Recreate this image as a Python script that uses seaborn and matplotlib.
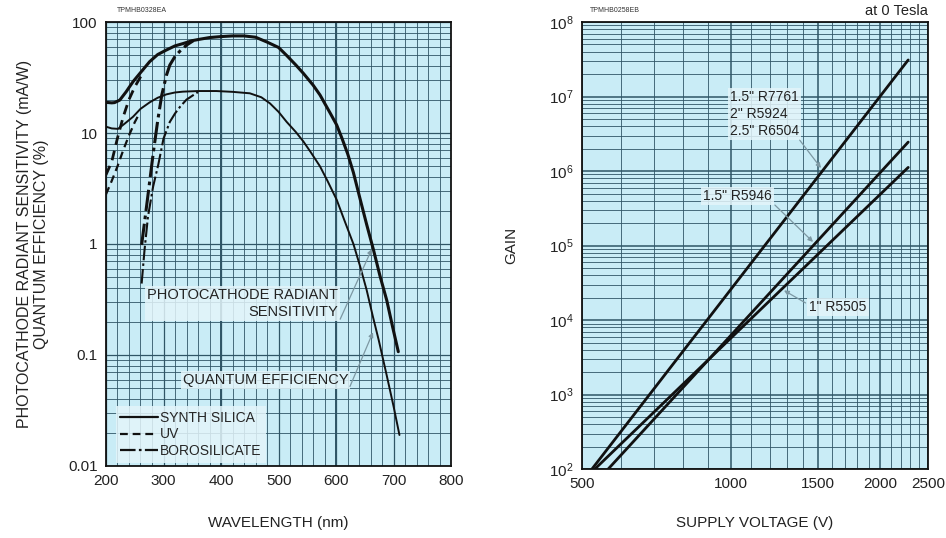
import numpy as np
import pandas as pd
import matplotlib
matplotlib.use("Agg")
import matplotlib.pyplot as plt
from matplotlib.lines import Line2D
from matplotlib.ticker import (FixedLocator, FixedFormatter, LogLocator,
                               NullFormatter, MultipleLocator)
import seaborn as sns

# ---- Spectral response (left panel) ----
ss_rad_nm = [200, 210, 215, 224, 235, 247, 260, 276, 290, 305, 320, 334, 350, 363,
             380, 400, 420, 440, 460, 480, 500, 514, 530, 543, 560, 572, 590, 601,
             610, 620, 630, 642, 653, 665, 676, 688, 698, 708]
ss_rad_val = [18.9, 18.7, 18.8, 19.8, 23.5, 29, 35, 44, 51, 56, 61, 64, 68, 70,
              72.5, 74, 75, 75, 73, 66, 59, 50, 41, 34.5, 27, 22, 15, 11.8,
              9.0, 6.5, 4.4, 2.5, 1.5, 0.88, 0.52, 0.31, 0.18, 0.107]

ss_qe_nm = [200, 210, 221, 233, 247, 260, 276, 290, 305, 320, 334, 360, 392, 420,
            450, 470, 485, 500, 514, 530, 543, 556, 572, 585, 601, 615, 630, 642,
            653, 664, 674, 688, 700, 710]
ss_qe_val = [11.4, 11.0, 10.9, 12.2, 14, 16.5, 18.9, 20.8, 22.3, 23.2, 23.6, 23.9, 23.9, 23.5,
             22.8, 21, 18.5, 15.5, 12.6, 10.2, 8.4, 6.7, 5.0, 3.7, 2.5, 1.6, 1.0, 0.62,
             0.385, 0.22, 0.136, 0.065, 0.034, 0.019]

uv_rad_nm = [200, 210, 220, 230, 240, 250, 260, 266]
uv_rad_val = [4.2, 5.5, 9, 14, 20, 26, 32, 36]

uv_qe_nm = [200, 210, 220, 230, 240, 250, 258]
uv_qe_val = [2.8, 3.7, 5, 7, 9.5, 12.5, 15]

boro_rad_nm = [262, 272, 282, 290, 297, 305, 311, 320, 329, 340, 352]
boro_rad_val = [0.98, 2.5, 6.5, 13, 22, 33, 41, 49, 55, 62, 68]

boro_qe_nm = [262, 267, 273, 282, 291, 300, 311, 320, 329, 340, 352, 360]
boro_qe_val = [0.44, 0.88, 1.76, 3.3, 5.2, 8.9, 12.6, 15, 17.3, 20, 22, 23.4]

wl_ticks = [200, 300, 400, 500, 600, 700, 800]
sens_ticks = [0.01, 0.1, 1, 10, 100]
sens_tick_labels = ["0.01", "0.1", "1", "10", "100"]

# ---- Gain vs supply voltage (right panel) ----
r7761_v = [524, 2280]
r7761_gain = [1e2, 3.1e7]
r5946_v = [565, 2280]
r5946_gain = [1e2, 2.45e6]
r5505_v = [531, 2280]
r5505_gain = [1e2, 1.12e6]

volt_ticks = [500, 1000, 1500, 2000, 2500]

# ---- Style ----
sns.set_theme(style="white")
plt.rcParams['font.family'] = ['Liberation Sans', 'DejaVu Sans']
plt.rcParams['mathtext.fontset'] = 'custom'
plt.rcParams['mathtext.rm'] = 'Liberation Sans'
plt.rcParams['mathtext.it'] = 'Liberation Sans:italic'
plt.rcParams['axes.unicode_minus'] = False

BG = "#c9ecf6"
GRID = "#2f5566"
INK = "#111111"
LEAD = "#7d98a3"
BOXC = "#e4f5fa"

fig = plt.figure(figsize=(9.46, 5.38), dpi=100)
ax1 = fig.add_axes([0.112, 0.134, 0.365, 0.825])
ax2 = fig.add_axes([0.615, 0.128, 0.366, 0.831])

for ax in (ax1, ax2):
    ax.set_facecolor(BG)
    ax.set_axisbelow(True)
    for s in ax.spines.values():
        s.set_color(INK)
        s.set_linewidth(1.3)
    ax.tick_params(which='both', length=0, labelsize=11, colors="#222222", pad=6)

# ---- Left panel ----
ax1.set_yscale('log')
ax1.set_xlim(200, 800)
ax1.set_ylim(0.01, 100)
ax1.xaxis.set_major_locator(FixedLocator(wl_ticks))
ax1.xaxis.set_minor_locator(MultipleLocator(20))
ax1.yaxis.set_major_locator(FixedLocator(sens_ticks))
ax1.yaxis.set_major_formatter(FixedFormatter(sens_tick_labels))
ax1.yaxis.set_minor_locator(LogLocator(base=10, subs=np.arange(2, 10)))
ax1.yaxis.set_minor_formatter(NullFormatter())
ax1.grid(which='major', color=GRID, lw=0.9)
ax1.grid(which='minor', color=GRID, lw=0.6)
for w in (400, 600):
    ax1.axvline(w, color=GRID, lw=1.4, zorder=0.5)


def draw(ax, x, y, lw, ls):
    df = pd.DataFrame({"x": x, "y": y})
    sns.lineplot(data=df, x="x", y="y", ax=ax, color=INK, lw=lw, linestyle=ls,
                 sort=False, estimator=None, zorder=3)


draw(ax1, ss_rad_nm, ss_rad_val, 2.2, '-')
draw(ax1, ss_qe_nm, ss_qe_val, 1.4, '-')
draw(ax1, uv_rad_nm, uv_rad_val, 2.0, (0, (3.5, 2.2)))
draw(ax1, uv_qe_nm, uv_qe_val, 1.6, (0, (3.5, 2.2)))
draw(ax1, boro_rad_nm, boro_rad_val, 2.2, (0, (7, 1.5, 1.2, 1.5)))
draw(ax1, boro_qe_nm, boro_qe_val, 1.5, (0, (7, 1.5, 1.2, 1.5)))

ax1.set_xlabel("WAVELENGTH (nm)", fontsize=11, labelpad=20, color="#222222")
ax1.set_ylabel("PHOTOCATHODE RADIANT SENSITIVITY (mA/W)\nQUANTUM EFFICIENCY (%)",
               fontsize=11.5, labelpad=14, color="#222222", linespacing=1.15)

box = dict(facecolor=BOXC, edgecolor='none', alpha=0.85, pad=1.5)
ax1.text(603, 0.29, "PHOTOCATHODE RADIANT\nSENSITIVITY", ha='right', va='center',
         multialignment='right', fontsize=10.5, color="#222222", bbox=box,
         linespacing=1.25, zorder=4)
ax1.text(621, 0.06, "QUANTUM EFFICIENCY", ha='right', va='center', fontsize=10.5,
         color="#222222", bbox=box, zorder=4)
arrow = dict(arrowstyle='-|>', color=LEAD, lw=0.9, mutation_scale=7,
             shrinkA=0, shrinkB=0)
ax1.annotate("", xy=(662, 0.9), xytext=(607, 0.21), arrowprops=arrow, zorder=4)
ax1.annotate("", xy=(664, 0.16), xytext=(624, 0.052), arrowprops=arrow, zorder=4)

handles = [Line2D([], [], color=INK, lw=1.6, ls='-'),
           Line2D([], [], color=INK, lw=1.6, ls=(0, (3.5, 2.2))),
           Line2D([], [], color=INK, lw=1.6, ls=(0, (7, 1.5, 1.2, 1.5)))]
leg = ax1.legend(handles, ["SYNTH SILICA", "UV", "BOROSILICATE"], loc='lower left',
                 bbox_to_anchor=(0.02, 0.0), fontsize=10, frameon=True,
                 handlelength=2.7, handletextpad=0.15, labelspacing=0.2,
                 borderpad=0.35, borderaxespad=0.2, fancybox=False)
leg.get_frame().set_facecolor(BOXC)
leg.get_frame().set_edgecolor('none')
leg.get_frame().set_alpha(0.85)
leg.set_zorder(5)

# ---- Right panel ----
ax2.set_xscale('log')
ax2.set_yscale('log')
ax2.set_xlim(500, 2500)
ax2.set_ylim(1e2, 1e8)
ax2.xaxis.set_major_locator(FixedLocator(volt_ticks))
ax2.xaxis.set_major_formatter(FixedFormatter([str(v) for v in volt_ticks]))
ax2.xaxis.set_minor_locator(FixedLocator(np.arange(600, 2500, 100)))
ax2.xaxis.set_minor_formatter(NullFormatter())
ax2.yaxis.set_major_locator(LogLocator(base=10, numticks=10))
ax2.yaxis.set_minor_locator(LogLocator(base=10, subs=np.arange(2, 10), numticks=20))
ax2.yaxis.set_minor_formatter(NullFormatter())
ax2.grid(which='major', color=GRID, lw=1.1)
ax2.grid(which='minor', color=GRID, lw=0.6)

draw(ax2, r7761_v, r7761_gain, 2.0, '-')
draw(ax2, r5946_v, r5946_gain, 2.0, '-')
draw(ax2, r5505_v, r5505_gain, 2.0, '-')

ax2.set_xlabel("SUPPLY VOLTAGE (V)", fontsize=11, labelpad=18, color="#222222")
ax2.set_ylabel("GAIN", fontsize=11, labelpad=22, color="#222222")

ax2.text(995, 5.8e6, "1.5\" R7761\n2\" R5924\n2.5\" R6504", ha='left', va='center',
         fontsize=10, color="#222222", bbox=box, linespacing=1.25, zorder=4)
ax2.text(877, 4.6e5, "1.5\" R5946", ha='left', va='center', fontsize=10,
         color="#222222", bbox=box, zorder=4)
ax2.text(1440, 1.5e4, "1\" R5505", ha='left', va='center', fontsize=10,
         color="#222222", bbox=box, zorder=4)
ax2.annotate("", xy=(1520, 1.1e6), xytext=(1377, 2.6e6), arrowprops=arrow, zorder=4)
ax2.annotate("", xy=(1465, 1.12e5), xytext=(1227, 3.5e5), arrowprops=arrow, zorder=4)
ax2.annotate("", xy=(1280, 2.5e4), xytext=(1415, 1.7e4), arrowprops=arrow, zorder=4)

# ---- Header texts ----
fig.text(117 / 946, 1 - 10 / 538, "TPMHB0328EA", fontsize=5, color="#333333",
         va='center', ha='left')
fig.text(590 / 946, 1 - 10 / 538, "TPMHB0258EB", fontsize=5, color="#333333",
         va='center', ha='left')
fig.text(928 / 946, 1 - 11 / 538, "at 0 Tesla", fontsize=10.5, color="#222222",
         va='center', ha='right')

fig.savefig("out.png", dpi=100, facecolor='white')
